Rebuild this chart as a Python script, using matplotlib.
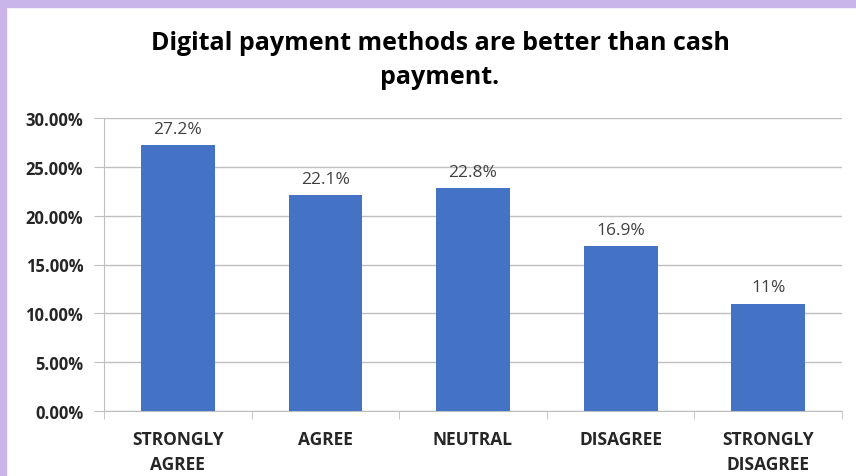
import matplotlib
matplotlib.use('Agg')
import matplotlib.pyplot as plt
from matplotlib.patches import Rectangle

categories = ['STRONGLY\nAGREE', 'AGREE', 'NEUTRAL', 'DISAGREE', 'STRONGLY\nDISAGREE']
values = [27.2, 22.1, 22.8, 16.9, 11.0]
value_labels = ['27.2%', '22.1%', '22.8%', '16.9%', '11%']
yticks = [0, 5, 10, 15, 20, 25, 30]

plt.rcParams['font.family'] = ['Open Sans', 'DejaVu Sans']

fig = plt.figure(figsize=(8.56, 4.77), dpi=100)
ax = fig.add_axes([104 / 856, 65 / 477, 738 / 856, 293 / 477])

x = list(range(len(categories)))
ax.bar(x, values, width=0.5, color='#4472C4', zorder=3)
for xi, v, lab in zip(x, values, value_labels):
    ax.annotate(lab, (xi, v), xytext=(0, 6), textcoords='offset points',
                ha='center', va='bottom', fontsize=12.5, color='#404040')

ax.set_xlim(-0.5, len(categories) - 0.5)
ax.set_ylim(0, 30)
ax.set_yticks(yticks)
ax.set_yticklabels(['%.2f%%' % t for t in yticks], fontsize=12, fontweight='bold', color='#262626')
ax.yaxis.grid(True, color='#BFBFBF', linewidth=1, zorder=0)
ax.tick_params(axis='y', length=7, color='#BFBFBF', pad=8)

ax.set_xticks(x)
ax.set_xticklabels(categories, fontsize=12.5, fontweight='bold', color='#262626', linespacing=1.45)
ax.tick_params(axis='x', length=0, pad=14)
ax.set_xticks([i - 0.5 for i in range(len(categories) + 1)], minor=True)
ax.tick_params(axis='x', which='minor', length=6, color='#BFBFBF')

for s in ['top', 'right']:
    ax.spines[s].set_visible(False)
ax.spines['left'].set_color('#BFBFBF')
ax.spines['bottom'].set_color('#BFBFBF')

fig.text(440 / 856, 1 - 44 / 477, 'Digital payment methods are better than cash',
         ha='center', va='center', fontsize=18, fontweight='bold', color='#000000')
fig.text(440 / 856, 1 - 78 / 477, 'payment.',
         ha='center', va='center', fontsize=18, fontweight='bold', color='#000000')

# lavender frame on top and left
fig.patches.append(Rectangle((0, 1 - 8 / 477), 1, 8 / 477, transform=fig.transFigure,
                             color='#C9B5E8', zorder=10))
fig.patches.append(Rectangle((0, 0), 6 / 856, 1, transform=fig.transFigure,
                             color='#C9B5E8', zorder=10))

fig.savefig('out.png', dpi=100)
